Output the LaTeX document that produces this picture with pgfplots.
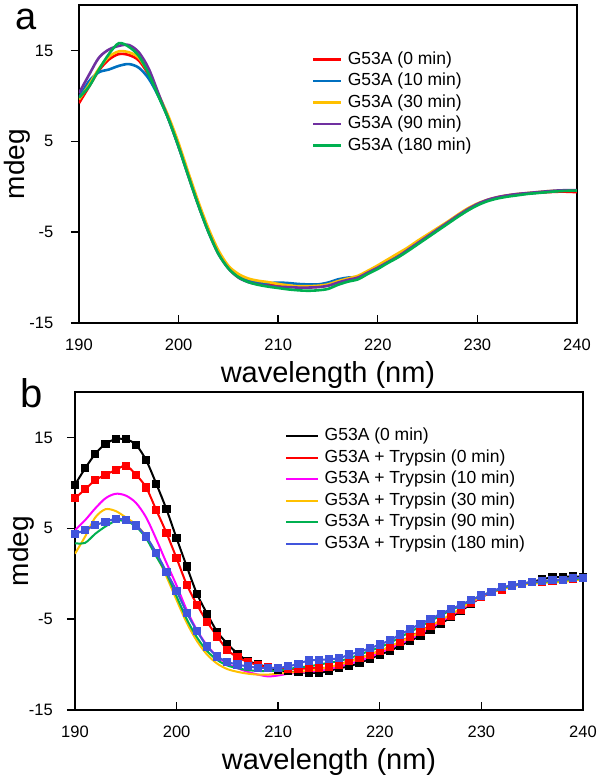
\documentclass[border=0pt]{standalone}
\usepackage{fontspec}
\setmainfont{Liberation Sans}
\usepackage{pgfplots}
\usepackage{pgfplotstable}
\pgfplotsset{compat=1.18}
\definecolor{cRed}{RGB}{255,0,0}
\definecolor{cBlue}{RGB}{0,112,192}
\definecolor{cYel}{RGB}{255,192,0}
\definecolor{cPur}{RGB}{112,48,160}
\definecolor{cGrn}{RGB}{0,176,80}
\definecolor{cMag}{RGB}{255,0,255}
\definecolor{cRoy}{RGB}{65,85,220}

\pgfplotstableread{
nm  r  b  y  p  g
190  9.2    9.8    9.6    10.3   9.8
191  11.0   11.6   11.2   12.3   11.0
192  12.8   12.6   13.0   14.2   12.9
193  14.0   12.9   14.3   15.1   14.6
194  14.6   13.3   14.9   15.5   15.8
195  14.5   13.5   14.8   15.6   15.4
196  13.9   13.1   14.2   14.8   14.4
197  12.3   11.9   12.5   13.0   12.4
198  10.0   9.9    10.1   10.2   9.9
199  7.5    7.4    7.7    7.4    7.4
200  4.5    4.4    4.8    4.4    4.4
201  1.2    1.2    1.5    1.1    1.1
202  -2.0   -2.0   -1.7   -2.1   -2.1
203  -4.9   -4.9   -4.6   -5.0   -5.0
204  -7.3   -7.3   -7.0   -7.4   -7.4
205  -8.9   -8.9   -8.7   -9.0   -9.0
206  -9.85  -9.85  -9.6   -10.0  -9.95
207  -10.35 -10.3  -10.1  -10.5  -10.5
208  -10.6  -10.5  -10.35 -10.75 -10.8
209  -10.75 -10.6  -10.5  -10.9  -11.0
210  -10.85 -10.55 -10.7  -11.0  -11.15
211  -10.95 -10.6  -10.85 -11.05 -11.3
212  -11.05 -10.7  -10.95 -11.1  -11.4
213  -11.05 -10.75 -10.95 -11.1  -11.45
214  -11.0  -10.75 -10.9  -11.05 -11.4
215  -10.85 -10.55 -10.75 -10.9  -11.25
216  -10.45 -10.2  -10.4  -10.55 -10.8
217  -10.15 -10.0  -10.1  -10.25 -10.45
218  -9.9   -9.9   -9.8   -10.0  -10.2
219  -9.35  -9.35  -9.25  -9.45  -9.6
220  -8.8   -8.8   -8.65  -8.9   -9.05
221  -8.2   -8.2   -8.0   -8.3   -8.4
222  -7.65  -7.65  -7.35  -7.7   -7.8
223  -6.95  -6.95  -6.7   -6.95  -7.1
224  -6.2   -6.2   -5.95  -6.2   -6.35
225  -5.45  -5.45  -5.25  -5.45  -5.6
226  -4.7   -4.7   -4.55  -4.7   -4.85
227  -3.95  -3.95  -3.85  -3.95  -4.1
228  -3.2   -3.2   -3.1   -3.2   -3.35
229  -2.5   -2.5   -2.4   -2.5   -2.65
230  -1.95  -1.95  -1.85  -1.9   -2.05
231  -1.5   -1.5   -1.45  -1.45  -1.6
232  -1.2   -1.2   -1.15  -1.15  -1.3
233  -1.0   -1.0   -0.95  -0.95  -1.1
234  -0.85  -0.85  -0.8   -0.8   -0.95
235  -0.75  -0.75  -0.7   -0.7   -0.8
236  -0.65  -0.65  -0.6   -0.6   -0.7
237  -0.6   -0.55  -0.5   -0.5   -0.6
238  -0.55  -0.47  -0.45  -0.42  -0.5
239  -0.55  -0.42  -0.4   -0.38  -0.45
240  -0.6   -0.42  -0.42  -0.38  -0.42
}\tableA

\pgfplotstableread{
nm   k      r      m      y      g      bl
190  9.8    8.3    4.8    2.2    3.35   4.4
191  11.6   9.3    5.9    4.1    3.4    4.8
192  13.2   10.3   7.2    6.2    4.4    5.35
193  14.3   10.9   8.3    7.1    5.2    5.7
194  14.8   11.4   8.8    6.9    5.8    6.05
195  14.8   11.9   8.6    6.2    5.8    5.9
196  14.2   10.9   7.8    5.4    5.2    5.3
197  12.5   9.5    6.2    4.1    3.9    4.1
198  9.9    7.0    3.8    2.1    1.9    2.3
199  7.1    4.5    1.2    -0.3   0.0    0.2
200  3.9    1.7    -1.3   -2.9   -2.5   -1.9
201  0.8    -1.2   -4.0   -5.4   -5.0   -4.3
202  -2.2   -3.4   -6.2   -7.4   -7.0   -6.3
203  -4.4   -5.3   -7.9   -8.9   -8.5   -8.0
204  -6.4   -6.9   -9.1   -9.9   -9.5   -9.1
205  -7.7   -8.4   -9.9   -10.5  -10.1  -9.7
206  -8.8   -9.2   -10.4  -10.8  -10.4  -10.0
207  -9.6   -9.7   -10.8  -11.0  -10.6  -10.2
208  -9.95  -10.05 -11.1  -11.1  -10.7  -10.35
209  -10.3  -10.3  -11.3  -11.1  -10.7  -10.4
210  -10.6  -10.4  -11.2  -11.0  -10.65 -10.35
211  -10.75 -10.5  -11.0  -10.9  -10.5  -10.2
212  -10.85 -10.5  -10.9  -10.8  -10.3  -9.9
213  -10.9  -10.4  -10.8  -10.7  -10.2  -9.55
214  -10.9  -10.4  -10.7  -10.5  -10.0  -9.5
215  -10.7  -10.3  -10.5  -10.3  -9.8   -9.4
216  -10.4  -10.0  -10.2  -10.0  -9.6   -9.3
217  -10.2  -9.6   -9.9   -9.7   -9.3   -8.9
218  -9.8   -9.3   -9.6   -9.3   -8.9   -8.6
219  -9.4   -8.9   -9.2   -8.9   -8.5   -8.2
220  -8.9   -8.5   -8.7   -8.5   -8.1   -7.8
221  -8.5   -8.1   -8.2   -8.0   -7.6   -7.3
222  -7.9   -7.5   -7.7   -7.5   -7.0   -6.7
223  -7.4   -6.9   -7.2   -7.0   -6.4   -6.1
224  -6.8   -6.35  -6.6   -6.4   -5.8   -5.5
225  -6.2   -5.7   -6.0   -5.8   -5.2   -5.0
226  -5.5   -5.2   -5.3   -5.1   -4.6   -4.4
227  -4.8   -4.6   -4.6   -4.5   -4.0   -3.9
228  -4.1   -4.0   -3.9   -3.8   -3.5   -3.4
229  -3.3   -3.2   -3.2   -3.1   -2.9   -2.9
230  -2.6   -2.6   -2.5   -2.5   -2.4   -2.4
231  -2.0   -2.0   -2.0   -2.0   -2.0   -2.0
232  -1.65  -1.75  -1.6   -1.7   -1.6   -1.5
233  -1.3   -1.35  -1.3   -1.4   -1.3   -1.3
234  -1.1   -1.15  -1.1   -1.2   -1.1   -1.1
235  -0.9   -0.95  -1.0   -1.1   -0.95  -0.9
236  -0.6   -0.85  -0.9   -1.0   -0.9   -0.83
237  -0.4   -0.8   -0.8   -0.95  -0.8   -0.7
238  -0.35  -0.7   -0.7   -0.9   -0.7   -0.65
239  -0.3   -0.6   -0.6   -0.75  -0.6   -0.46
240  -0.35  -0.45  -0.5   -0.6   -0.5   -0.46
}\tableB

\pgfplotsset{
  cdaxis/.style={
    scale only axis,
    axis line style={line width=1.6pt, black},
    xmin=190, xmax=240, ymin=-15, ymax=20,
    xtick={190,200,210,220,230,240},
    xticklabels={190,200,210,220,230,240},
    ytick={-15,-5,5,15},
    yticklabels={-15,-5,5,15},
    xtick pos=bottom, ytick pos=left,
    xtick align=inside, ytick align=outside,
    major tick length=8pt,
    every tick/.style={line width=1.4pt, black},
    tick label style={font=\fontsize{16.5}{16.5}\selectfont, inner sep=0pt},
    xticklabel style={anchor=base, yshift=-27pt},
    yticklabel style={anchor=east},
    xlabel={wavelength (nm)},
    ylabel={mdeg},
    xlabel style={font=\fontsize{29}{29}\selectfont, at={(axis description cs:0.5,0)}, anchor=base, yshift=-59pt, inner sep=0pt},
    ylabel style={font=\fontsize{28}{28}\selectfont, at={(axis description cs:0,0.5)}, anchor=base, inner sep=0pt},
    legend style={draw=none, fill=none, font=\fontsize{17.5}{17.5}\selectfont,
      inner sep=0pt, row sep=5.5pt,
      nodes={inner sep=0pt, text height=12.5pt, text depth=3.5pt},
      /tikz/every odd column/.style={column sep=5.5pt}},
    legend cell align=left,
  }
}

\begin{document}
\begin{tikzpicture}
\useasboundingbox (0pt,0pt) rectangle (601pt,-780pt);

\begin{axis}[cdaxis, at={(79pt,-323pt)}, anchor=south west, width=498pt, height=318pt,
  ylabel style={yshift=54pt},
  yticklabel style={xshift=-17.5pt},
  legend style={at={(axis description cs:0.467,0.854)}, anchor=north west},
  legend image code/.code={\draw[#1, line width=2.6pt] (0pt,0pt) -- (28pt,0pt);},
  every axis plot/.append style={line width=2.6pt, smooth, no markers}]
\addplot[cRed] table[x=nm, y=r] {\tableA};
\addlegendentry{G53A (0 min)}
\addplot[cBlue] table[x=nm, y=b] {\tableA};
\addlegendentry{G53A (10 min)}
\addplot[cYel] table[x=nm, y=y] {\tableA};
\addlegendentry{G53A (30 min)}
\addplot[cPur] table[x=nm, y=p] {\tableA};
\addlegendentry{G53A (90 min)}
\addplot[cGrn] table[x=nm, y=g] {\tableA};
\addlegendentry{G53A (180 min)}
\end{axis}

\begin{axis}[cdaxis, at={(75pt,-710pt)}, anchor=south west, width=508pt, height=318pt,
  ylabel style={yshift=46pt},
  yticklabel style={xshift=-14pt},
  legend style={at={(axis description cs:0.413,0.887)}, anchor=north west},
  legend image code/.code={\draw[#1, line width=2.2pt] (0pt,0pt) -- (32pt,0pt);},
  every axis plot/.append style={line width=2pt, smooth}]
\addplot[black, mark=square*, mark size=3.6pt, mark options={fill=black, line width=0pt}] table[x=nm, y=k] {\tableB};
\addlegendentry{G53A (0 min)}
\addplot[cRed, mark=square*, mark size=3.6pt, mark options={fill=cRed, line width=0pt}] table[x=nm, y=r] {\tableB};
\addlegendentry{G53A + Trypsin (0 min)}
\addplot[cMag, no markers] table[x=nm, y=m] {\tableB};
\addlegendentry{G53A + Trypsin (10 min)}
\addplot[cYel, no markers] table[x=nm, y=y] {\tableB};
\addlegendentry{G53A + Trypsin (30 min)}
\addplot[cGrn, no markers] table[x=nm, y=g] {\tableB};
\addlegendentry{G53A + Trypsin (90 min)}
\addplot[cRoy, mark=square*, mark size=3.6pt, mark options={fill=cRoy, line width=0pt}] table[x=nm, y=bl] {\tableB};
\addlegendentry{G53A + Trypsin (180 min)}
\end{axis}

\node[anchor=base west, inner sep=0pt, text height=20pt, text depth=0pt, font=\fontsize{38}{38}\selectfont] at (15pt,-29pt) {a};
\node[anchor=base west, inner sep=0pt, text height=29pt, text depth=0pt, font=\fontsize{40}{40}\selectfont] at (20pt,-407pt) {b};
\end{tikzpicture}
\end{document}
